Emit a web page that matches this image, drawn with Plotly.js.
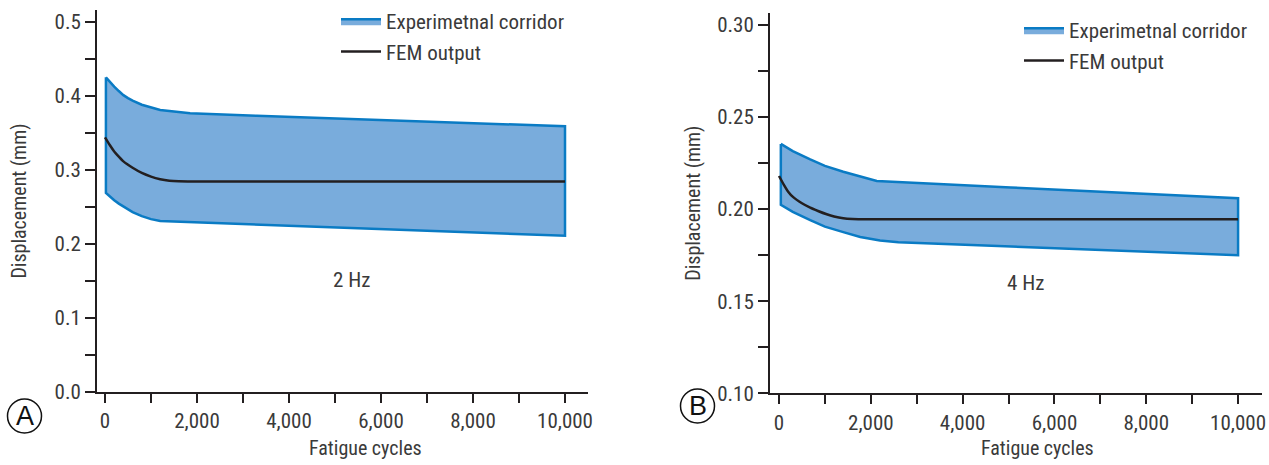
<!DOCTYPE html>
<html>
<head>
<meta charset="utf-8">
<script src="https://cdn.plot.ly/plotly-3.0.1.min.js"></script>
<style>html,body{margin:0;padding:0;background:#fff;}#chart{width:1269px;height:465px;}</style>
</head>
<body>
<div id="chart"></div>
<script>
// ---- Panel A (2 Hz) ----
var cyclesA_upper = [20, 100, 200, 300, 400, 500, 600, 800, 1000, 1200, 1400, 1600, 1850, 3300, 5100, 10000];
var upperA        = [0.425, 0.419, 0.4125, 0.4065, 0.401, 0.397, 0.3935, 0.388, 0.384, 0.381, 0.3795, 0.378, 0.3766, 0.373, 0.369, 0.359];
var cyclesA_lower = [20, 100, 200, 300, 400, 500, 600, 800, 1000, 1200, 1500, 3300, 5100, 10000];
var lowerA        = [0.269, 0.264, 0.259, 0.2545, 0.250, 0.2465, 0.243, 0.2375, 0.2335, 0.231, 0.2295, 0.226, 0.222, 0.211];
var cyclesA_fem   = [0, 100, 200, 300, 400, 600, 800, 1000, 1200, 1400, 1600, 1800, 10000];
var femA          = [0.344, 0.334, 0.325, 0.318, 0.3115, 0.303, 0.296, 0.291, 0.2875, 0.2855, 0.2847, 0.2845, 0.2845];

// ---- Panel B (4 Hz) ----
var cyclesB_upper = [40, 300, 680, 1000, 1400, 1800, 2130, 5050, 10000];
var upperB        = [0.2354, 0.2315, 0.227, 0.2235, 0.2203, 0.2175, 0.2153, 0.2118, 0.2059];
var cyclesB_lower = [40, 300, 680, 1000, 1400, 1770, 2200, 2600, 10000];
var lowerB        = [0.2023, 0.1985, 0.194, 0.1905, 0.1875, 0.1849, 0.1830, 0.1820, 0.175];
var cyclesB_fem   = [0, 100, 200, 310, 500, 680, 850, 1040, 1200, 1400, 1600, 1800, 10000];
var femB          = [0.218, 0.2135, 0.2095, 0.2065, 0.2032, 0.2008, 0.199, 0.1972, 0.196, 0.195, 0.1946, 0.1945, 0.1945];

var seriesNames = ['Experimetnal corridor', 'FEM output'];
var panelLabels = ['2 Hz', '4 Hz'];
var panelLetters = ['A', 'B'];
var xTitle = 'Fatigue cycles';
var yTitle = 'Displacement (mm)';

var FONT = '"Liberation Sans Narrow", "Roboto Condensed", "DejaVu Sans Condensed", "Liberation Sans", sans-serif';
var TXT = '#3a3a3a';
var AX = '#231f20';
var BAND_FILL = '#79acdc';
var BAND_LINE = '#0a7bc4';

function bandPoly(xu, yu, xl, yl) {
  var xs = xu.slice(), ys = yu.slice();
  for (var i = xl.length - 1; i >= 0; i--) { xs.push(xl[i]); ys.push(yl[i]); }
  xs.push(xu[0]); ys.push(yu[0]);
  return {x: xs, y: ys};
}

var bA = bandPoly(cyclesA_upper, upperA, cyclesA_lower, lowerA);
var bB = bandPoly(cyclesB_upper, upperB, cyclesB_lower, lowerB);

var traces = [
  {x: bA.x, y: bA.y, xaxis: 'x', yaxis: 'y', type: 'scatter', mode: 'lines', fill: 'toself',
   fillcolor: BAND_FILL, line: {color: BAND_LINE, width: 2.5}, name: seriesNames[0], legend: 'legend', hoverinfo: 'skip'},
  {x: cyclesA_fem, y: femA, xaxis: 'x', yaxis: 'y', type: 'scatter', mode: 'lines',
   line: {color: AX, width: 2.5, shape: 'spline', smoothing: 0.5}, name: seriesNames[1], legend: 'legend'},
  {x: bB.x, y: bB.y, xaxis: 'x2', yaxis: 'y2', type: 'scatter', mode: 'lines', fill: 'toself',
   fillcolor: BAND_FILL, line: {color: BAND_LINE, width: 2.5}, name: seriesNames[0], legend: 'legend2', hoverinfo: 'skip'},
  {x: cyclesB_fem, y: femB, xaxis: 'x2', yaxis: 'y2', type: 'scatter', mode: 'lines',
   line: {color: AX, width: 2.5, shape: 'spline', smoothing: 0.5}, name: seriesNames[1], legend: 'legend2'}
];

var W = 1269, H = 465;
function px(v) { return v / W; }
function py(v) { return 1 - v / H; }

function xAxis(domain, range, anchor) {
  return {
    domain: domain, range: range, anchor: anchor,
    showline: true, linecolor: AX, linewidth: 2, zeroline: false, showgrid: false,
    ticks: 'outside', ticklen: 9, tickwidth: 2, tickcolor: AX,
    tick0: 0, dtick: 2000, tickformat: ',d',
    tickfont: {family: FONT, size: 21, color: TXT},
    minor: {tick0: 0, dtick: 1000, ticks: 'outside', ticklen: 9, tickwidth: 2, tickcolor: AX, showgrid: false}
  };
}
function yAxis(domain, range, anchor, dtick, fmt, standoff) {
  return {
    domain: domain, range: range, anchor: anchor,
    showline: true, linecolor: AX, linewidth: 2, zeroline: false, showgrid: false,
    ticks: 'outside', ticklen: 10, tickwidth: 2, tickcolor: AX,
    tick0: 0, dtick: dtick, tickformat: fmt,
    tickfont: {family: FONT, size: 21, color: TXT},
    title: {text: yTitle, font: {family: FONT, size: 20, color: TXT}, standoff: standoff},
    minor: {dtick: dtick / 2, ticks: 'outside', ticklen: 10, tickwidth: 2, tickcolor: AX, showgrid: false}
  };
}

function note(xref, yref, x, y, text, font) {
  return {xref: xref, yref: yref, x: x, y: y, text: text, showarrow: false,
          xanchor: 'center', yanchor: 'middle', font: font};
}
var labelFont = {family: FONT, size: 21, color: TXT};
var titleFont = {family: FONT, size: 20, color: TXT};
var letterFont = {family: '"Liberation Sans", Arial, sans-serif', size: 27, color: '#111'};

var layout = {
  width: W, height: H,
  margin: {l: 0, r: 0, t: 0, b: 0},
  paper_bgcolor: '#ffffff', plot_bgcolor: '#ffffff',
  font: {family: FONT, color: TXT},
  showlegend: true,
  xaxis: xAxis([px(97), px(588)], [-174, 10500], 'y'),
  yaxis: yAxis([py(392), py(10)], [0, 0.516], 'x', 0.1, '.1f', 23),
  xaxis2: xAxis([px(770), px(1262)], [-196, 10521], 'y2'),
  yaxis2: yAxis([py(393.3), py(13)], [0.10, 0.3065], 'x2', 0.05, '.2f', 11),
  legend: {x: px(336), y: py(1), xanchor: 'left', yanchor: 'top', bgcolor: 'rgba(0,0,0,0)',
           font: {family: FONT, size: 21, color: TXT}, itemwidth: 40, tracegroupgap: 0},
  legend2: {x: px(1019), y: py(10), xanchor: 'left', yanchor: 'top', bgcolor: 'rgba(0,0,0,0)',
           font: {family: FONT, size: 21, color: TXT}, itemwidth: 40, tracegroupgap: 0},
  annotations: [
    note('x', 'y', 5363, 0.151, panelLabels[0], labelFont),
    note('x2', 'y2', 5363, 0.160, panelLabels[1], labelFont),
    note('paper', 'paper', px(365), py(448), xTitle, titleFont),
    note('paper', 'paper', px(1037), py(448), xTitle, titleFont),
    note('paper', 'paper', px(24.5), py(416), panelLetters[0], letterFont),
    note('paper', 'paper', px(697.5), py(406), panelLetters[1], letterFont)
  ],
  shapes: [
    {type: 'circle', xref: 'paper', yref: 'paper', xsizemode: 'pixel', ysizemode: 'pixel',
     xanchor: px(24.5), yanchor: py(416), x0: -17, x1: 17, y0: -17, y1: 17,
     line: {color: '#111', width: 1.5}},
    {type: 'circle', xref: 'paper', yref: 'paper', xsizemode: 'pixel', ysizemode: 'pixel',
     xanchor: px(697.5), yanchor: py(406), x0: -17, x1: 17, y0: -17, y1: 17,
     line: {color: '#111', width: 1.5}}
  ]
};

Plotly.newPlot('chart', traces, layout, {displayModeBar: false, staticPlot: true});
</script>
</body>
</html>
